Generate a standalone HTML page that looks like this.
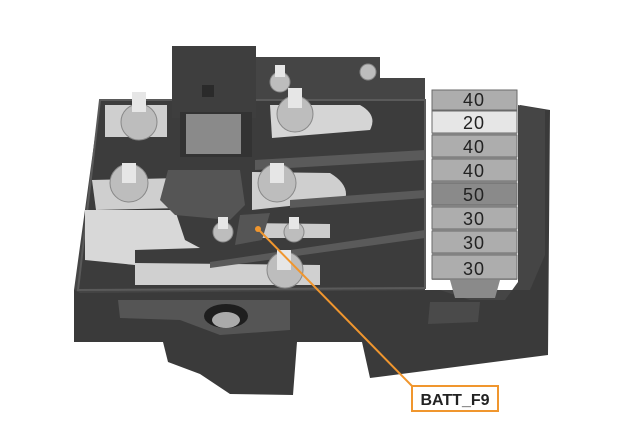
<!DOCTYPE html>
<html><head><meta charset="utf-8"><style>
html,body{margin:0;padding:0;background:#fff;}
svg{display:block}
text{font-family:"Liberation Sans",sans-serif;}
</style></head><body>
<svg width="635" height="440" viewBox="0 0 635 440" xmlns="http://www.w3.org/2000/svg">
<path d="M74,290 L74,342 L163,342 L168,362 L200,374 L230,394 L293,395 L297,342 L362,342 L370,378 L548,355 L550,110 L520,105 L520,290 Z" fill="#3a3a3a"/>
<path d="M118,300 L290,300 L290,330 L220,335 L180,320 L120,318 Z" fill="#555"/>
<ellipse cx="226" cy="316" rx="22" ry="12" fill="#1e1e1e"/>
<ellipse cx="226" cy="320" rx="14" ry="8" fill="#aaa"/>
<path d="M430,302 L480,302 L478,322 L428,324 Z" fill="#4a4a4a"/>
<path d="M100,100 L172,100 L172,68 L255,68 L255,57 L380,57 L380,78 L425,78 L425,290 L530,290 L545,255 L545,110 L518,105 L518,282 L505,300 L470,300 L440,290 L80,293 L74,290 Z" fill="#454545"/>
<path d="M100,100 L425,100 L425,288 L78,290 Z" fill="#3c3c3c" stroke="#5a5a5a" stroke-width="2"/>
<rect x="172" y="46" width="84" height="72" fill="#3e3e3e"/>
<rect x="202" y="85" width="12" height="12" fill="#2a2a2a"/>
<rect x="180" y="112" width="72" height="45" fill="#333"/>
<rect x="186" y="114" width="55" height="40" fill="#8a8a8a"/>
<rect x="105" y="105" width="62" height="32" fill="#cfcfcf"/>
<path d="M270,105 L360,105 Q378,115 370,130 L272,138 Z" fill="#d5d5d5"/>
<path d="M92,180 L180,178 L180,208 L96,210 Z" fill="#cfcfcf"/>
<path d="M252,172 L330,173 Q350,185 345,200 L252,210 Z" fill="#cfcfcf"/>
<path d="M85,210 L175,210 L185,240 L200,248 L135,250 L135,265 L85,260 Z" fill="#d8d8d8"/>
<path d="M135,263 L320,265 L320,285 L135,285 Z" fill="#d0d0d0"/>
<path d="M245,223 L330,224 L330,238 L245,238 Z" fill="#cccccc"/>
<path d="M168,170 L240,170 L245,205 L230,220 L175,215 L160,200 Z" fill="#555"/>
<path d="M240,215 L270,213 L262,240 L235,245 Z" fill="#555"/>
<path d="M255,160 L425,150 L425,160 L255,170 Z" fill="#5a5a5a"/>
<path d="M290,200 L425,190 L425,198 L290,208 Z" fill="#5a5a5a"/>
<path d="M210,262 L425,230 L425,238 L210,268 Z" fill="#5a5a5a"/>
<g fill="#bdbdbd" stroke="#888" stroke-width="1">
<circle cx="139" cy="122" r="18"/><circle cx="129" cy="183" r="19"/>
<circle cx="277" cy="183" r="19"/><circle cx="295" cy="114" r="18"/>
<circle cx="223" cy="232" r="10"/><circle cx="294" cy="232" r="10"/>
<circle cx="285" cy="270" r="18"/><circle cx="280" cy="82" r="10"/><circle cx="368" cy="72" r="8"/>
</g>
<g fill="#e6e6e6">
<rect x="132" y="92" width="14" height="20"/><rect x="122" y="163" width="14" height="20"/>
<rect x="270" y="163" width="14" height="20"/><rect x="288" y="88" width="14" height="20"/>
<rect x="277" y="250" width="14" height="20"/><rect x="218" y="217" width="10" height="12"/>
<rect x="289" y="217" width="10" height="12"/><rect x="275" y="65" width="10" height="12"/>
</g>
<rect x="432" y="90" width="85" height="190" fill="#9a9a9a"/>
<g fill="#adadad" stroke="#6a6a6a" stroke-width="1">
<rect x="432" y="90" width="85" height="20"/>
<rect x="432" y="111" width="85" height="22" fill="#e6e6e6"/>
<rect x="432" y="135" width="85" height="22"/>
<rect x="432" y="159" width="85" height="22"/>
<rect x="432" y="183" width="85" height="22" fill="#8a8a8a"/>
<rect x="432" y="207" width="85" height="22"/>
<rect x="432" y="231" width="85" height="22"/>
<rect x="432" y="255" width="85" height="24"/>
</g>
<path d="M450,280 L500,280 L495,298 L455,298 Z" fill="#8a8a8a"/>
<g font-size="18" fill="#222" text-anchor="middle" letter-spacing="1">
<text x="474" y="106">40</text><text x="474" y="129">20</text>
<text x="474" y="153">40</text><text x="474" y="177">40</text>
<text x="474" y="201">50</text><text x="474" y="225">30</text>
<text x="474" y="249">30</text><text x="474" y="275">30</text>
</g>
<polyline points="258,229 412,386" fill="none" stroke="#f0962e" stroke-width="2"/>
<circle cx="258" cy="229" r="3" fill="#f0962e"/>
<rect x="412" y="386" width="86" height="25" fill="#fff" stroke="#f0962e" stroke-width="2"/>
<text x="455" y="405" font-size="16" font-weight="bold" fill="#222" text-anchor="middle">BATT_F9</text>
</svg>
</body></html>
